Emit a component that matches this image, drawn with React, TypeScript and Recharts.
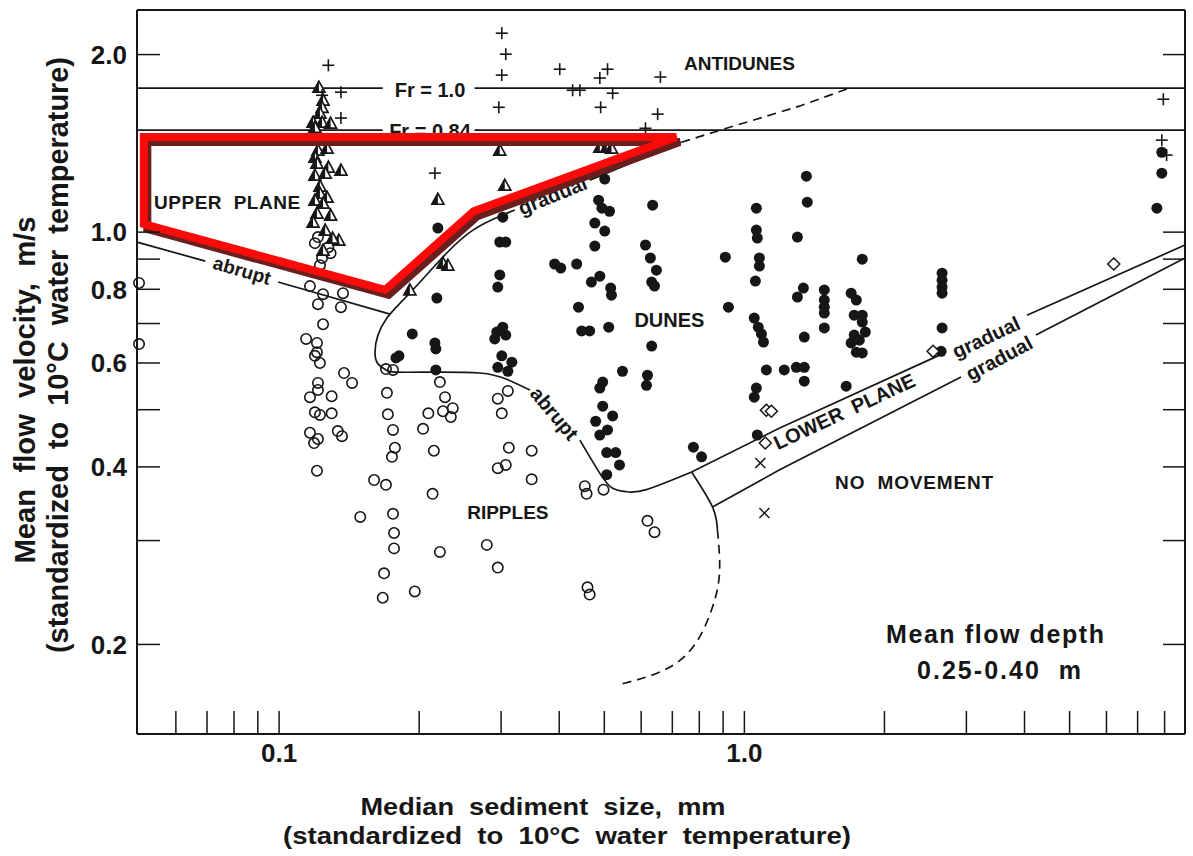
import React from 'react';
import { ScatterChart, Scatter, XAxis, YAxis } from 'recharts';

const FONT = "'Liberation Sans', Arial, Helvetica, sans-serif";
const INK = '#161616';

// log-log axes
const X_DOMAIN: [number, number] = [0.0495, 8.85];
const Y_DOMAIN: [number, number] = [0.141, 2.38];
const X_TICKS = [0.06, 0.07, 0.08, 0.09, 0.1, 0.2, 0.3, 0.4, 0.5, 0.6, 0.7, 0.8, 0.9, 1, 2, 3, 4, 5, 6, 7, 8];
const Y_TICKS = [0.2, 0.3, 0.4, 0.5, 0.6, 0.7, 0.8, 0.9, 1, 2];
const X_TICK_LABELS: Record<string, string> = { '0.1': '0.1', '1': '1.0' };
const Y_TICK_LABELS: Record<string, string> = { '0.2': '0.2', '0.4': '0.4', '0.6': '0.6', '0.8': '0.8', '1': '1.0', '2': '2.0' };

// observations: [median sediment size mm, mean flow velocity m/s]
const RIPPLES = [
  [0.05, 0.82], [0.05, 0.646], [0.1165, 0.81], [0.1243, 0.785], [0.1372, 0.788], [0.1212, 0.755],
  [0.1358, 0.746], [0.1243, 0.698], [0.1143, 0.659], [0.1206, 0.649], [0.1206, 0.626], [0.1194, 0.617],
  [0.1224, 0.6], [0.1379, 0.577], [0.1435, 0.555], [0.1212, 0.555], [0.1212, 0.54], [0.1165, 0.525],
  [0.1297, 0.527], [0.1194, 0.495], [0.1224, 0.49], [0.1297, 0.493], [0.1165, 0.457], [0.1212, 0.446],
  [0.1337, 0.46], [0.1365, 0.451], [0.1189, 0.439], [0.1206, 0.394], [0.16, 0.38], [0.1697, 0.373],
  [0.1705, 0.534], [0.1713, 0.491], [0.1757, 0.462], [0.1774, 0.431], [0.1748, 0.416], [0.1494, 0.329],
  [0.1757, 0.333], [0.1766, 0.309], [0.1766, 0.291], [0.1681, 0.264], [0.1697, 0.586], [0.1757, 0.584],
  [0.2216, 0.557], [0.2273, 0.525], [0.2093, 0.493], [0.225, 0.497], [0.2362, 0.503], [0.2339, 0.486],
  [0.2039, 0.464], [0.2151, 0.426], [0.2951, 0.522], [0.3102, 0.538], [0.301, 0.493], [0.3117, 0.431],
  [0.349, 0.426], [0.2951, 0.398], [0.307, 0.403], [0.349, 0.381], [0.2137, 0.36], [0.2216, 0.287],
  [0.2795, 0.295], [0.2951, 0.27], [0.454, 0.371], [0.458, 0.36], [0.498, 0.366], [0.619, 0.324],
  [0.641, 0.31], [0.167, 0.24], [0.1957, 0.246], [0.46, 0.25], [0.465, 0.243],
  [0.1194, 0.958], [0.1212, 0.981], [0.1276, 0.943], [0.129, 0.921], [0.1237, 0.904], [0.1224, 0.879],
];

const DUNES = [
  [0.501, 1.23], [0.486, 1.133], [0.494, 1.098], [0.513, 1.085], [0.635, 1.111], [0.477, 1.036],
  [0.501, 1.004], [0.477, 0.947], [0.613, 0.951], [0.628, 0.904], [0.647, 0.862], [0.632, 0.823],
  [0.641, 0.81], [0.91, 0.907], [1.061, 1.098], [1.061, 1.008], [1.066, 0.977], [1.077, 0.904],
  [1.077, 0.876], [1.056, 0.826], [1.3, 0.981], [0.3025, 1.06], [0.298, 0.962], [0.307, 0.962],
  [0.298, 0.846], [0.2951, 0.807], [0.2194, 1.016], [0.391, 0.883], [0.403, 0.869], [0.436, 0.883],
  [0.469, 0.823], [0.489, 0.842], [0.516, 0.804], [0.518, 0.782], [0.2183, 0.773], [0.44, 0.746],
  [0.447, 0.68], [0.465, 0.68], [0.511, 0.69], [0.632, 0.641], [0.547, 0.581], [0.619, 0.572],
  [0.616, 0.55], [0.496, 0.557], [0.489, 0.544], [0.924, 0.746], [1.05, 0.715], [1.071, 0.69],
  [1.088, 0.672], [1.099, 0.651], [1.115, 0.584], [1.218, 0.584], [1.293, 0.59], [1.345, 0.59],
  [1.3, 0.776], [1.061, 0.544], [1.05, 0.525], [1.066, 0.453], [0.1933, 0.672], [0.2162, 0.649],
  [0.2172, 0.634], [0.2936, 0.677], [0.3025, 0.69], [0.307, 0.669], [0.2907, 0.659], [0.1783, 0.612],
  [0.181, 0.617], [0.2172, 0.584], [0.301, 0.617], [0.3164, 0.602], [0.2951, 0.59], [0.3102, 0.581],
  [0.496, 0.507], [0.521, 0.488], [0.479, 0.478], [0.508, 0.462], [0.489, 0.453], [0.506, 0.423],
  [0.529, 0.423], [0.539, 0.403], [0.506, 0.388], [0.777, 0.432], [0.809, 0.416], [1.359, 1.244],
  [1.365, 1.124], [1.792, 0.9], [1.339, 0.804], [1.485, 0.798], [1.485, 0.767], [1.485, 0.746],
  [1.485, 0.729], [1.485, 0.688], [1.345, 0.664], [1.345, 0.559], [1.696, 0.788], [1.74, 0.767],
  [1.722, 0.723], [1.792, 0.723], [1.792, 0.704], [1.819, 0.677], [1.722, 0.669], [1.696, 0.649],
  [1.766, 0.656], [1.74, 0.626], [1.792, 0.624], [1.655, 0.548], [2.66, 0.852], [2.66, 0.829],
  [2.66, 0.807], [2.66, 0.788], [2.66, 0.688], [7.89, 1.366], [7.89, 1.259], [7.7, 1.098], [2.647, 0.628],
];

const UPPER_PLANE = [
  [0.1218, 1.761], [0.1243, 1.674], [0.1237, 1.628], [0.1224, 1.591], [0.1183, 1.536], [0.1237, 1.536],
  [0.129, 1.53], [0.1194, 1.506], [0.1212, 1.432], [0.1268, 1.432], [0.1212, 1.377], [0.1268, 1.388],
  [0.1194, 1.34], [0.1206, 1.309], [0.1276, 1.289], [0.1358, 1.274], [0.1194, 1.249], [0.1256, 1.259],
  [0.1224, 1.197], [0.1224, 1.164], [0.1268, 1.146], [0.1194, 1.133], [0.1243, 1.12], [0.1206, 1.077],
  [0.129, 1.069], [0.1183, 1.04], [0.1256, 1.008], [0.1344, 0.969], [0.1303, 0.977], [0.1243, 0.932],
  [0.298, 1.377], [0.3055, 1.201], [0.2194, 1.137], [0.225, 0.886], [0.2305, 0.879], [0.191, 0.798],
  [0.489, 1.393], [0.506, 1.393], [0.518, 1.388],
];

const ANTIDUNES = [
  [0.1276, 1.918], [0.1358, 1.727], [0.1358, 1.561], [0.1237, 1.706], [0.2162, 1.259], [0.301, 2.174],
  [0.307, 2.003], [0.301, 1.846], [0.2966, 1.628], [0.401, 1.889], [0.4274, 1.74], [0.443, 1.74],
  [0.489, 1.825], [0.508, 1.889], [0.521, 1.72], [0.491, 1.628], [0.66, 1.832], [0.651, 1.585],
  [0.613, 1.5], [7.95, 1.68], [7.89, 1.432], [8.08, 1.351],
];

const LOWER_PLANE = [[1.115, 0.499], [1.143, 0.497], [1.109, 0.439], [2.544, 0.628], [6.22, 0.883]];
const NO_MOVEMENT = [[1.082, 0.406], [1.104, 0.334]];

// bed-form boundaries
const FR_10_A = [[0.0495, 1.754], [0.167, 1.754]];
const FR_10_B = [[0.263, 1.754], [8.85, 1.754]];
const FR_084_A = [[0.0495, 1.489], [0.167, 1.489]];
const FR_084_B = [[0.263, 1.489], [8.85, 1.489]];
const ABRUPT_UP_A = [[0.0495, 0.962], [0.0694, 0.893]];
const ABRUPT_UP_B = [[0.0995, 0.823], [0.1732, 0.726]];
const GRADUAL_UP = [[0.732, 1.42], [0.465, 1.225]];
const BEND = [
  [0.321, 1.09], [0.298, 1.064], [0.261, 1.008], [0.229, 0.921], [0.2, 0.82], [0.182, 0.758],
  [0.1705, 0.715], [0.1631, 0.669], [0.1607, 0.626], [0.1631, 0.598], [0.1697, 0.584], [0.1774, 0.579],
  [0.211, 0.579], [0.27, 0.577], [0.3085, 0.563], [0.346, 0.54],
];
const RIPPLE_EDGE = [[0.443, 0.444], [0.489, 0.39], [0.521, 0.368], [0.558, 0.363], [0.616, 0.366], [0.77, 0.392]];
const LOWER_PLANE_TOP_A = [[0.77, 0.392], [1.188, 0.465], [2.713, 0.626]];
const LOWER_PLANE_TOP_B = [[4.048, 0.723], [8.85, 0.951]];
const CONNECT = [[0.77, 0.392], [0.854, 0.342], [0.875, 0.313]];
const LOWER_PLANE_BOT_A = [[0.854, 0.342], [1.188, 0.395], [2.922, 0.568]];
const LOWER_PLANE_BOT_B = [[4.232, 0.669], [8.85, 0.904]];
const DASH_TOP = [[0.732, 1.42], [0.915, 1.5], [1.312, 1.635], [1.68, 1.754]];
const DASH_BOTTOM = [[0.875, 0.313], [0.884, 0.264], [0.85, 0.229], [0.781, 0.1995], [0.673, 0.181], [0.539, 0.171]];

// red highlight around the upper-plane field
const HIGHLIGHT = [[0.0512, 1.45], [0.714, 1.45], [0.262, 1.085], [0.169, 0.798], [0.0512, 1.032]];

const LINES = [
  { key: 'fr10a', data: FR_10_A },
  { key: 'fr10b', data: FR_10_B },
  { key: 'fr084a', data: FR_084_A },
  { key: 'fr084b', data: FR_084_B },
  { key: 'abua', data: ABRUPT_UP_A },
  { key: 'abub', data: ABRUPT_UP_B },
  { key: 'grup', data: GRADUAL_UP },
  { key: 'bend', data: BEND, curve: 'natural' },
  { key: 'redge', data: RIPPLE_EDGE, curve: 'natural' },
  { key: 'lpta', data: LOWER_PLANE_TOP_A },
  { key: 'lptb', data: LOWER_PLANE_TOP_B },
  { key: 'conn', data: CONNECT, curve: 'natural' },
  { key: 'lpba', data: LOWER_PLANE_BOT_A },
  { key: 'lpbb', data: LOWER_PLANE_BOT_B },
  { key: 'dtop', data: DASH_TOP, dash: true },
  { key: 'dbot', data: DASH_BOTTOM, dash: true, curve: 'natural' },
];

const ANNOTATIONS = [
  { x: 0.9756, y: 1.934, text: 'ANTIDUNES', size: 19, rot: 0 },
  { x: 0.211, y: 1.74, text: 'Fr = 1.0', size: 20, rot: 0 },
  { x: 0.211, y: 1.483, text: 'Fr = 0.84', size: 20, rot: 0 },
  { x: 0.0773, y: 1.124, text: 'UPPER  PLANE', size: 19, rot: 0, len: 146 },
  { x: 0.0833, y: 0.862, text: 'abrupt', size: 19, rot: 16 },
  { x: 0.387, y: 1.155, text: 'gradual', size: 20, rot: -22 },
  { x: 0.69, y: 0.709, text: 'DUNES', size: 20, rot: 0 },
  { x: 0.391, y: 0.493, text: 'abrupt', size: 20, rot: 50 },
  { x: 0.3102, y: 0.335, text: 'RIPPLES', size: 19, rot: 0 },
  { x: 1.639, y: 0.497, text: 'LOWER  PLANE', size: 20, rot: -25 },
  { x: 3.306, y: 0.664, text: 'gradual', size: 20, rot: -25 },
  { x: 3.526, y: 0.612, text: 'gradual', size: 20, rot: -28 },
  { x: 2.316, y: 0.377, text: 'NO  MOVEMENT', size: 19, rot: 0, len: 158 },
  { x: 3.456, y: 0.2083, text: 'Mean flow depth', size: 25, rot: 0, len: 218 },
  { x: 3.526, y: 0.181, text: '0.25-0.40  m', size: 25, rot: 0, len: 164 },
];

const pts = (a: number[][]) => a.map(([x, y]) => ({ x, y }));

const AXIS_LINE = { stroke: INK, strokeWidth: 2 };

const BottomTick = (p: any) => {
  const label = X_TICK_LABELS[String(p.payload.value)];
  return (
    <g>
      <line x1={p.x} y1={p.y} x2={p.x} y2={p.y - 23} stroke={INK} strokeWidth={1.5} />
      {label && (
        <text x={p.x} y={p.y + 28} textAnchor="middle" fontFamily={FONT} fontWeight="bold" fontSize={26} fill={INK}>
          {label}
        </text>
      )}
    </g>
  );
};

const TopTick = (p: any) => <line x1={p.x} y1={p.y} x2={p.x} y2={p.y + 23} stroke={INK} strokeWidth={1.5} />;

const LeftTick = (p: any) => {
  const label = Y_TICK_LABELS[String(p.payload.value)];
  return (
    <g>
      <line x1={p.x} y1={p.y} x2={p.x + 23} y2={p.y} stroke={INK} strokeWidth={1.5} />
      {label && (
        <text x={p.x - 10} y={p.y} dy="0.36em" textAnchor="end" fontFamily={FONT} fontWeight="bold" fontSize={26} fill={INK}>
          {label}
        </text>
      )}
    </g>
  );
};

const RightTick = (p: any) => <line x1={p.x} y1={p.y} x2={p.x - 22} y2={p.y} stroke={INK} strokeWidth={1.5} />;

const noMark = () => <g />;

const OpenCircle = (p: any) => <circle cx={p.cx} cy={p.cy} r={5.2} fill="none" stroke={INK} strokeWidth={1.6} />;
const Dot = (p: any) => <circle cx={p.cx} cy={p.cy} r={5.5} fill={INK} />;
const HalfTriangle = (p: any) => {
  const { cx, cy } = p;
  return (
    <g>
      <polygon points={`${cx},${cy - 6} ${cx - 6},${cy + 5} ${cx + 6},${cy + 5}`} fill="#fff" stroke={INK} strokeWidth={1.7} />
      <polygon points={`${cx},${cy - 6} ${cx - 6},${cy + 5} ${cx},${cy + 5}`} fill={INK} />
    </g>
  );
};
const Plus = (p: any) => (
  <g stroke={INK} strokeWidth={1.6}>
    <line x1={p.cx - 6} y1={p.cy} x2={p.cx + 6} y2={p.cy} />
    <line x1={p.cx} y1={p.cy - 6} x2={p.cx} y2={p.cy + 6} />
  </g>
);
const Diamond = (p: any) => (
  <polygon points={`${p.cx},${p.cy - 6} ${p.cx + 6},${p.cy} ${p.cx},${p.cy + 6} ${p.cx - 6},${p.cy}`} fill="#fff" stroke={INK} strokeWidth={1.5} />
);
const Cross = (p: any) => (
  <g stroke={INK} strokeWidth={1.5}>
    <line x1={p.cx - 5} y1={p.cy - 5} x2={p.cx + 5} y2={p.cy + 5} />
    <line x1={p.cx - 5} y1={p.cy + 5} x2={p.cx + 5} y2={p.cy - 5} />
  </g>
);

const Annotation = (p: any) => {
  const a = p.payload;
  return (
    <text
      x={p.cx}
      y={p.cy}
      dy="0.36em"
      transform={a.rot ? `rotate(${a.rot} ${p.cx} ${p.cy})` : undefined}
      textAnchor="middle"
      fontFamily={FONT}
      fontWeight="bold"
      fontSize={a.size}
      fill={INK}
      textLength={a.len}
      style={{ whiteSpace: 'pre' }}
    >
      {a.text}
    </text>
  );
};

const RedOutline = (props: any) => {
  const p = props.points.map((q: any) => `${q.x},${q.y}`).join(' ');
  return (
    <g>
      <polygon points={p} transform="translate(3.5,5)" fill="none" stroke="#6b1e1e" strokeWidth={8} strokeLinejoin="miter" />
      <polygon points={p} fill="none" stroke="#fb0a0a" strokeWidth={8} strokeLinejoin="miter" />
    </g>
  );
};

const MARKERS = [
  { key: 'ripples', data: RIPPLES, shape: OpenCircle },
  { key: 'dunes', data: DUNES, shape: Dot },
  { key: 'upper', data: UPPER_PLANE, shape: HalfTriangle },
  { key: 'anti', data: ANTIDUNES, shape: Plus },
  { key: 'lower', data: LOWER_PLANE, shape: Diamond },
  { key: 'none', data: NO_MOVEMENT, shape: Cross },
];

export default function App() {
  return (
    <div style={{ position: 'absolute', left: 0, top: 0, width: 1193, height: 856, background: '#fff' }}>
      <ScatterChart width={1193} height={856} margin={{ top: 9, right: 7, bottom: 121, left: 136 }}>
        <XAxis
          xAxisId="b"
          type="number"
          dataKey="x"
          scale="log"
          domain={X_DOMAIN}
          ticks={X_TICKS}
          interval={0}
          tickSize={0}
          tickMargin={0}
          tickLine={false}
          tick={BottomTick}
          axisLine={AXIS_LINE}
          height={1}
        />
        <XAxis
          xAxisId="t"
          orientation="top"
          type="number"
          scale="log"
          domain={X_DOMAIN}
          allowDataOverflow
          ticks={X_TICKS}
          interval={0}
          tickSize={0}
          tickMargin={0}
          tickLine={false}
          tick={TopTick}
          axisLine={AXIS_LINE}
          height={1}
        />
        <YAxis
          yAxisId="l"
          type="number"
          dataKey="y"
          scale="log"
          domain={Y_DOMAIN}
          ticks={Y_TICKS}
          interval={0}
          tickSize={0}
          tickMargin={0}
          tickLine={false}
          tick={LeftTick}
          axisLine={AXIS_LINE}
          width={1}
        />
        <YAxis
          yAxisId="r"
          orientation="right"
          type="number"
          scale="log"
          domain={Y_DOMAIN}
          allowDataOverflow
          ticks={Y_TICKS}
          interval={0}
          tickSize={0}
          tickMargin={0}
          tickLine={false}
          tick={RightTick}
          axisLine={AXIS_LINE}
          width={1}
        />
        {LINES.map((s) => (
          <Scatter
            key={s.key}
            xAxisId="b"
            yAxisId="l"
            data={pts(s.data)}
            shape={noMark}
            line={{ stroke: INK, strokeWidth: 1.7, strokeDasharray: s.dash ? '9 6' : undefined }}
            lineJointType={(s.curve as any) ?? 'linear'}
            isAnimationActive={false}
          />
        ))}
        <Scatter xAxisId="b" yAxisId="l" data={ANNOTATIONS} shape={Annotation} isAnimationActive={false} />
        {MARKERS.map((m) => (
          <Scatter key={m.key} xAxisId="b" yAxisId="l" data={pts(m.data)} shape={m.shape} isAnimationActive={false} />
        ))}
        <Scatter xAxisId="b" yAxisId="l" data={pts(HIGHLIGHT)} shape={noMark} line={RedOutline} isAnimationActive={false} />
      </ScatterChart>
      <svg width={1193} height={856} style={{ position: 'absolute', left: 0, top: 0, pointerEvents: 'none' }}>
        <g fontFamily={FONT} fontWeight="bold" fill={INK}>
          <text x={543} y={815} textAnchor="middle" fontSize={24} textLength={365} lengthAdjust="spacingAndGlyphs" style={{ whiteSpace: 'pre' }}>
            Median  sediment  size,  mm
          </text>
          <text x={567} y={844} textAnchor="middle" fontSize={24} textLength={568} lengthAdjust="spacingAndGlyphs" style={{ whiteSpace: 'pre' }}>
            (standardized  to  10°C  water  temperature)
          </text>
          <text transform="translate(35,390) rotate(-90)" textAnchor="middle" fontSize={29} textLength={347} lengthAdjust="spacingAndGlyphs" style={{ whiteSpace: 'pre' }}>
            Mean  flow  velocity,  m/s
          </text>
          <text transform="translate(68,355) rotate(-90)" textAnchor="middle" fontSize={29} textLength={596} lengthAdjust="spacingAndGlyphs" style={{ whiteSpace: 'pre' }}>
            (standardized  to  10°C  water  temperature)
          </text>
        </g>
      </svg>
    </div>
  );
}
